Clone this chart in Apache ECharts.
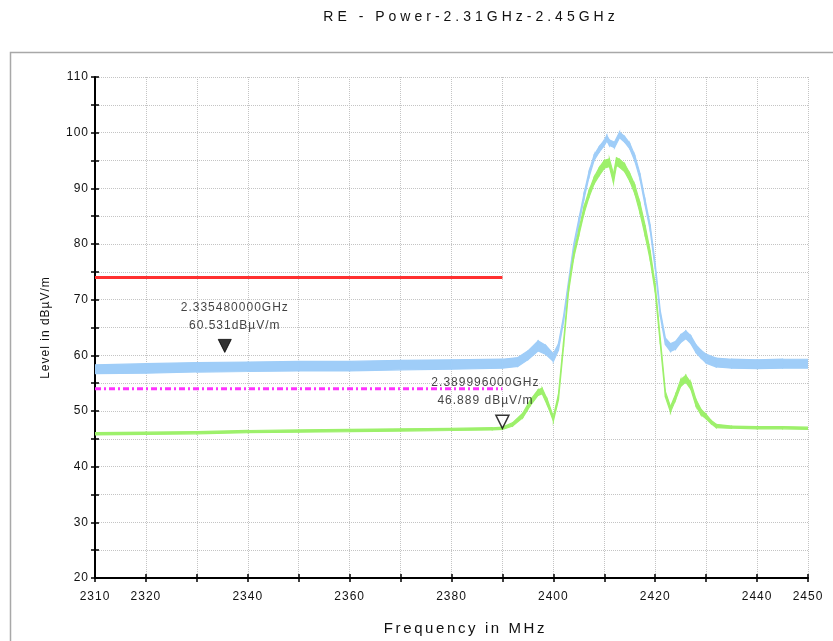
<!DOCTYPE html>
<html lang="en">
<head>
    <meta charset="UTF-8">
    <title>RE - Power</title>
    <style>
        html, body { margin: 0; padding: 0; background: #fff; }
        #main { width: 833px; height: 641px; }
    </style>
</head>
<body>
<div id="main"></div>
<script src="https://cdn.jsdelivr.net/npm/echarts@6/dist/echarts.min.js"></script>
<script type="text/javascript">
    // peak trace (blue) - band, low / high edge in dBuV/m
    var blueFreq = [2310, 2320, 2330, 2340, 2350, 2360, 2370, 2380, 2390, 2393, 2395, 2397, 2398.5, 2400, 2401, 2402, 2403, 2404, 2405, 2406, 2407, 2408, 2409, 2410, 2410.5, 2411, 2412, 2413, 2414, 2415, 2416, 2417, 2418, 2419, 2420, 2421, 2422, 2423, 2424, 2425, 2426, 2427, 2428, 2429, 2430, 2432, 2435, 2440, 2445, 2450];
    var blueLow = [56.7, 56.8, 57.0, 57.1, 57.2, 57.2, 57.4, 57.5, 57.7, 58.0, 59.2, 60.8, 60.2, 58.9, 60.9, 66.0, 72.5, 79.0, 83.5, 88.0, 92.0, 95.0, 96.5, 97.7, 98.5, 97.7, 97.3, 99.1, 98.3, 97.1, 94.9, 91.7, 87.0, 82.5, 75.5, 67.0, 61.9, 60.7, 61.1, 62.3, 63.0, 62.1, 60.5, 59.5, 58.6, 57.9, 57.7, 57.6, 57.7, 57.7];
    var blueHigh = [58.3, 58.5, 58.7, 58.8, 58.9, 58.9, 59.1, 59.2, 59.3, 59.6, 60.8, 62.6, 61.8, 60.3, 62.1, 67.0, 73.5, 80.0, 84.5, 89.0, 93.0, 96.0, 97.5, 98.7, 99.5, 98.7, 98.3, 100.1, 99.3, 98.1, 95.9, 92.7, 88.0, 83.5, 76.5, 68.0, 63.1, 62.1, 62.5, 63.7, 64.4, 63.5, 61.9, 60.9, 60.2, 59.5, 59.3, 59.2, 59.3, 59.3];

    // average trace (green)
    var greenFreq = [2310, 2320, 2330, 2340, 2350, 2360, 2370, 2380, 2388, 2390, 2392, 2394, 2395.5, 2397, 2397.8, 2398.8, 2400, 2401, 2402, 2403, 2404, 2405, 2406, 2407, 2408, 2409, 2410, 2411, 2411.8, 2412.4, 2413, 2414, 2415, 2416, 2417, 2418, 2419, 2420, 2421, 2422, 2423, 2424, 2425, 2426, 2427, 2428, 2429, 2430, 2431, 2432, 2435, 2440, 2445, 2450];
    var greenLow = [45.7, 45.8, 45.9, 46.1, 46.2, 46.3, 46.4, 46.5, 46.6, 46.7, 47.3, 48.8, 51.0, 52.8, 53.1, 51.1, 48.2, 52.0, 61.5, 71.5, 77.5, 81.5, 85.4, 88.4, 90.8, 92.3, 93.6, 93.9, 91.0, 94.1, 93.8, 93.0, 91.3, 89.0, 85.6, 81.6, 77.2, 71.3, 62.0, 52.5, 49.8, 52.0, 54.4, 55.2, 53.9, 50.9, 49.3, 48.6, 47.7, 47.0, 46.9, 46.8, 46.8, 46.7];
    var greenHigh = [46.1, 46.2, 46.3, 46.5, 46.6, 46.7, 46.8, 46.9, 47.0, 47.1, 47.9, 49.6, 52.0, 53.8, 54.1, 52.1, 49.0, 53.0, 62.5, 72.5, 78.5, 82.5, 86.6, 89.6, 92.0, 93.7, 95.0, 95.3, 92.6, 95.5, 95.2, 94.4, 92.7, 90.6, 87.4, 83.4, 78.8, 72.7, 63.0, 53.5, 50.8, 53.0, 55.6, 56.4, 55.1, 52.1, 50.3, 49.4, 48.3, 47.6, 47.3, 47.2, 47.2, 47.1];

    // limit lines
    var limitFreq = [2310, 2390];
    var peakLimit = [74, 74];
    var avgLimit = [54, 54];

    // markers
    var markerFreq = [2335.48, 2389.996];
    var markerLevel = [60.531, 46.889];
    var markerText = ['2.335480000GHz\n60.531dBµV/m', '2.389996000GHz\n46.889 dBµV/m'];

    var xTickLabels = [2310, 2320, 2340, 2360, 2380, 2400, 2420, 2440, 2450];

    // the original plot software spaces its letters out, so do the same on the canvas
    var fillText = CanvasRenderingContext2D.prototype.fillText;
    CanvasRenderingContext2D.prototype.fillText = function (t, x, y, w) {
        var f = this.font;
        this.letterSpacing = /\b14px/.test(f) ? '4px' : (/\b15px/.test(f) ? '2.6px' : '1px');
        return w === undefined ? fillText.call(this, t, x, y) : fillText.call(this, t, x, y, w);
    };

    function pairs(xs, ys) {
        var out = [];
        for (var i = 0; i < xs.length; i++) out.push([xs[i], ys[i]]);
        return out;
    }

    // one quad per step between the low and high edge of a trace
    function band(freq, lo, hi, color) {
        return function (params, api) {
            var i = params.dataIndex;
            if (i >= freq.length - 1) return null;
            var pts = [
                api.coord([freq[i], lo[i]]),
                api.coord([freq[i + 1], lo[i + 1]]),
                api.coord([freq[i + 1], hi[i + 1]]),
                api.coord([freq[i], hi[i]])
            ];
            return {
                type: 'polygon',
                shape: {points: pts},
                style: {fill: color, stroke: color, lineWidth: 1.2}
            };
        };
    }

    var FONT = 'Liberation Sans, Arial, sans-serif';
    var BLUE = '#9fcdf8';
    var GREEN = '#9df06b';

    var myChart = echarts.init(document.getElementById('main'), null, {renderer: 'canvas'});

    var baseX = {
        type: 'value', min: 2310, max: 2450, interval: 10, position: 'bottom'
    };
    var baseY = {
        type: 'value', min: 20, max: 110, interval: 5, position: 'left'
    };
    var tickStyle = {color: '#000', width: 1.5};

    var option = {
        animation: false,
        backgroundColor: '#fff',
        textStyle: {fontFamily: FONT},
        title: {
            text: 'RE - Power-2.31GHz-2.45GHz',
            left: 466, top: 5, textAlign: 'center',
            textStyle: {fontFamily: FONT, fontSize: 14, fontWeight: 'normal', color: '#111'}
        },
        graphic: [{
            type: 'rect', left: 8, top: 50, silent: true,
            shape: {width: 900, height: 700},
            style: {fill: 'none', stroke: '#a8a8a8', lineWidth: 1.5}
        }],
        grid: {left: 95, right: 25, top: 77, bottom: 56},
        xAxis: [Object.assign({}, baseX, {
            name: 'Frequency in MHz', nameLocation: 'middle', nameGap: 43,
            nameTextStyle: {fontFamily: FONT, fontSize: 15, color: '#111', padding: [0, 0, 0, 28]},
            axisLine: {lineStyle: {color: '#000', width: 2}},
            axisTick: {length: 4, lineStyle: tickStyle},
            axisLabel: {
                margin: 13, fontSize: 12, color: '#111', fontFamily: FONT,
                formatter: function (v) { return xTickLabels.indexOf(v) >= 0 ? String(v) : ''; }
            },
            splitLine: {show: true, lineStyle: {type: 'dotted', color: '#c4c4c4', width: 1}}
        }), Object.assign({}, baseX, {
            axisLine: {show: false},
            axisTick: {inside: true, length: 4, lineStyle: tickStyle},
            axisLabel: {show: false},
            splitLine: {show: false}
        })],
        yAxis: [Object.assign({}, baseY, {
            name: 'Level in dBµV/m', nameLocation: 'middle', nameGap: 43,
            nameTextStyle: {fontFamily: FONT, fontSize: 12, color: '#111'},
            axisLine: {lineStyle: {color: '#000', width: 2}},
            axisTick: {length: 4, lineStyle: tickStyle},
            axisLabel: {
                margin: 6, fontSize: 12, color: '#111', fontFamily: FONT,
                formatter: function (v) { return v % 10 === 0 ? String(v) : ''; }
            },
            splitLine: {show: true, lineStyle: {type: 'dotted', color: '#c4c4c4', width: 1}}
        }), Object.assign({}, baseY, {
            axisLine: {show: false},
            axisTick: {inside: true, length: 4, lineStyle: tickStyle},
            axisLabel: {show: false},
            splitLine: {show: false}
        })],
        series: [{
            name: 'peak', type: 'custom', z: 2, clip: true,
            renderItem: band(blueFreq, blueLow, blueHigh, BLUE),
            data: pairs(blueFreq, blueLow)
        }, {
            name: 'avg', type: 'custom', z: 3, clip: true,
            renderItem: band(greenFreq, greenLow, greenHigh, GREEN),
            data: pairs(greenFreq, greenLow)
        }, {
            name: 'peak limit', type: 'line', symbol: 'none', z: 4,
            lineStyle: {color: '#ff3030', width: 3},
            data: pairs(limitFreq, peakLimit)
        }, {
            name: 'avg limit', type: 'line', symbol: 'none', z: 4,
            lineStyle: {color: '#ff33ff', width: 3, type: [6, 3, 2, 3]},
            data: pairs(limitFreq, avgLimit)
        }, {
            name: 'markers', type: 'scatter', z: 5,
            symbol: 'path://M0,0 L10,0 L5,10 Z',
            symbolSize: [13, 13],
            symbolOffset: [0, -6.5],
            label: {
                show: true, position: 'top', fontFamily: FONT, fontSize: 12,
                color: '#111', lineHeight: 18, align: 'center'
            },
            data: [{
                value: [markerFreq[0], markerLevel[0]],
                itemStyle: {color: '#000', borderColor: '#000', borderWidth: 1},
                label: {formatter: markerText[0], offset: [10, 1]}
            }, {
                value: [markerFreq[1], markerLevel[1]],
                itemStyle: {color: '#fff', borderColor: '#000', borderWidth: 1.5},
                label: {formatter: markerText[1], offset: [-17, 0]}
            }]
        }]
    };

    myChart.setOption(option);
</script>
</body>
</html>
